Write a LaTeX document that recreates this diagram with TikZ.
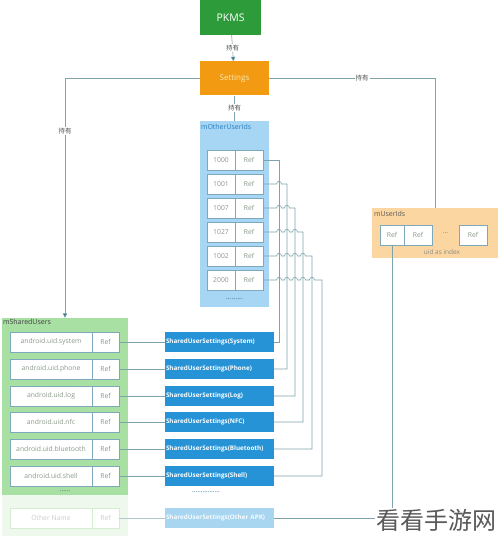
\documentclass[tikz,border=0pt]{standalone}
\usepackage{fontspec}
\setmainfont{Open Sans}
\newfontfamily\cjk{Noto Sans CJK SC}
\usetikzlibrary{arrows.meta,calc}
\definecolor{pkmsgreen}{HTML}{2E9B3B}
\definecolor{setorange}{HTML}{F29B12}
\definecolor{setText}{HTML}{FDE7B0}
\definecolor{moublue}{HTML}{A6D6F4}
\definecolor{cellborder}{HTML}{7EA9BD}
\definecolor{lineC}{HTML}{7FA3AD}
\definecolor{arrC}{HTML}{2D6E84}
\definecolor{susblue}{HTML}{2593D6}
\definecolor{susfade}{HTML}{A8D5F0}
\definecolor{msugreen}{HTML}{A8DFA2}
\definecolor{msufade}{HTML}{EEF8EC}
\definecolor{muiorange}{HTML}{FCD6A0}
\definecolor{cellText}{HTML}{8A9A8A}
\definecolor{labelBlue}{HTML}{2A7FC0}
\begin{document}
\begin{tikzpicture}[x=1pt,y=-1pt,
  conn/.style={draw=lineC, line width=0.6pt},
  arr/.style={conn, -{Triangle[length=4.5pt,width=4.5pt,fill=arrC]}},
  lbl/.style={fill=white, font=\cjk\fontsize{6.5}{7}\selectfont, text=black!70, inner sep=1pt},
  cell/.style={draw=cellborder, fill=white, line width=0.5pt, minimum height=20pt, inner sep=0pt, font=\fontsize{6.8}{7}\selectfont, text=cellText},
  fcell/.style={draw=msugreen!50, fill=white, line width=0.5pt, minimum height=20pt, inner sep=0pt, font=\fontsize{6.8}{7}\selectfont, text=black!20},
  susbox/.style={fill=susblue, text=white, font=\bfseries\fontsize{6.3}{7}\selectfont, text width=107pt, inner xsep=1pt, inner ysep=0pt, align=left, minimum height=20pt},
  boxlbl/.style={anchor=north west, inner sep=1pt, font=\fontsize{7}{8}\selectfont}
]
\useasboundingbox (0,0) rectangle (500,537);

% top boxes
\node[fill=pkmsgreen, text=white, minimum width=61pt, minimum height=35pt, inner sep=0pt, font=\fontsize{10.5}{11}\selectfont] (pkms) at (230.5,17.5) {PKMS};
\node[fill=setorange, text=setText, minimum width=69pt, minimum height=34pt, inner sep=0pt, font=\fontsize{8}{9}\selectfont] (settings) at (234.5,78.5) {Settings};

% containers
\node[fill=moublue, minimum width=69pt, minimum height=186pt, inner sep=0pt] (mou) at (234.5,214) {};
\node[boxlbl, text=labelBlue] (moulbl) at ($(mou.north west)+(0,2)$) {mOtherUserIds};
\node[fill=muiorange, minimum width=126pt, minimum height=50pt, inner sep=0pt] (mui) at (435,233) {};
\node[boxlbl, text=black!65] (muilbl) at ($(mui.north west)+(1,2)$) {mUserIds};
\fill[msufade] (2,495) rectangle (128,536);
\node[fill=msugreen, minimum width=126pt, minimum height=177pt, inner sep=0pt] (msu) at (65,406.5) {};
\node[boxlbl, text=black!75] (msulbl) at ($(msu.north west)+(0,0.5)$) {mSharedUsers};

% top connectors
\draw[arr] (pkms) -- node[lbl]{持有} (settings);
\draw[conn] (settings) -- node[lbl]{持有} (mou);
\draw[arr] (settings.west) -| node[lbl, pos=0.61]{持有} (msu.north);
\draw[conn] (settings.east) -| node[lbl, pos=0.28]{持有} (mui.north);

% mOtherUserIds rows
\foreach \i/\num/\y in {1/1000/160,2/1001/184,3/1007/208,4/1027/232,5/1002/256,6/2000/280}{
  \node[cell, minimum width=28pt] (onum\i) at (221,\y) {\num};
  \node[cell, minimum width=28pt] (oref\i) at (249,\y) {Ref};
}
\node[font=\fontsize{7}{8}\selectfont, text=arrC, inner sep=0pt] (oudots) at (234.5,299) {.........};

% mUserIds cells
\node[cell, minimum width=24pt] (uref1) at (392,235) {Ref};
\node[cell, minimum width=28pt] (uref2) at (418,235) {Ref};
\node[font=\fontsize{7}{8}\selectfont, text=black!50, inner sep=0pt] (udots) at (445.5,233) {...};
\node[cell, minimum width=28pt] (uref3) at (473,235) {Ref};
\node[font=\fontsize{6.5}{7}\selectfont, text=black!45, inner sep=0pt] (uidx) at (442,252) {uid as index};

% mSharedUsers rows and SharedUserSettings boxes
\foreach \i/\nm/\sn/\y in {1/system/System/342,2/phone/Phone/369,3/log/Log/396,4/nfc/NFC/422,5/bluetooth/Bluetooth/449,6/shell/Shell/476}{
  \node[cell, minimum width=82pt] (sname\i) at (51,\y) {android.uid.\nm};
  \node[cell, minimum width=27pt] (sref\i) at (105.5,\y) {Ref};
  \node[susbox] (sus\i) at (219.5,\y) {SharedUserSettings(\sn)};
  \draw[conn] (sref\i.east) -- (sus\i.west);
}
\node[font=\fontsize{6.5}{7}\selectfont, text=arrC, inner sep=0pt] (sudots) at (65,491) {......};
\node[font=\fontsize{6.5}{7}\selectfont, text=susblue!70!black, inner sep=0pt] (susdots) at (206,492) {................};
\node[fcell, minimum width=82pt] (sname7) at (51,518) {Other Name};
\node[fcell, minimum width=27pt] (sref7) at (105.5,518) {Ref};
\node[susbox, fill=susfade, text=white!92!susfade] (sus7) at (219.5,518) {SharedUserSettings(Other APK)};
\draw[conn, draw=lineC!60] (sref7.east) -- (sus7.west);

% vertical line positions
\coordinate (v1) at (279,0);
\coordinate (v2) at (287,0);
\coordinate (v3) at (295,0);
\coordinate (v4) at (303,0);
\coordinate (v5) at (312,0);
\coordinate (v6) at (322,0);

% connectors from mOtherUserIds to SharedUserSettings
\draw[conn] (oref1.east) -- (oref1.east -| v1) -- (v1 |- sus1.east) -- (sus1.east);
\foreach \i/\prev in {2/1,3/2,4/3,5/4,6/5}{
  \draw[conn] (oref\i.east)
    foreach \j in {1,...,\prev}{
      -- ($(oref\i.east -| v\j)+(-2.5,0)$) .. controls +(0,-3.5) and +(0,-3.5) .. ($(oref\i.east -| v\j)+(2.5,0)$)
    }
    -- (oref\i.east -| v\i) -- (v\i |- sus\i.east) -- (sus\i.east);
}

% mUserIds to Other APK
\draw[conn] (uref1.south) -- (uref1.south |- sus7.east) -- (sus7.east);

% watermark
\node[fill=white, inner sep=1pt, font=\cjk\fontsize{24}{26}\selectfont, text=black!65] (wm) at (436,520) {看看手游网};
\end{tikzpicture}
\end{document}
